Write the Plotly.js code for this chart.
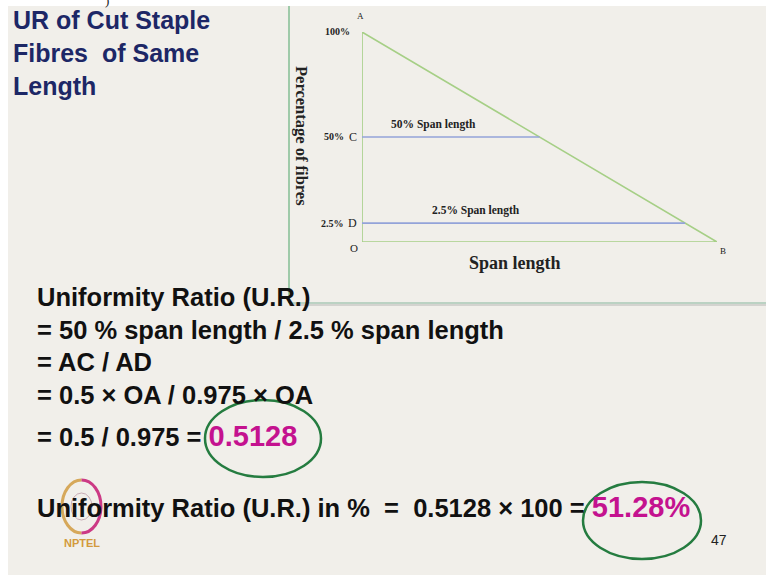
<!DOCTYPE html>
<html>
<head>
<meta charset="utf-8">
<script src="https://cdn.plot.ly/plotly-3.0.1.min.js"></script>
<style>html,body{margin:0;padding:0;background:#fff;}#chart{width:766px;height:575px;}</style>
</head>
<body>
<div id="chart"></div>
<script>
// ---- data ----
// triangle A -> O -> B -> A in (span length %, percentage of fibres %)
const triangleX = [0, 0, 100, 0];
const triangleY = [100, 0, 0, 100];
// span-length lines (drawn level on the figure, end point on AB)
const spanLevels = [50, 9];
const spanEnds = [50, 91];
const spanLabels = ['50% Span length', '2.5% Span length'];
const levelValues = [100, 50, 9];
const levelTexts = ['100%', '50%', '2.5%'];
const levelLetters = ['', 'C', 'D'];
const pointNames = ['A', 'O', 'B'];
const pointX = [0, 0, 100];
const pointY = [100, 0, 0];
const titleLines = ['UR of Cut Staple', 'Fibres  of Same', 'Length'];
const bodyLines = [
  'Uniformity Ratio (U.R.)',
  '= 50 % span length / 2.5 % span length',
  '= AC / AD',
  '= 0.5 × OA / 0.975 × OA'
];
const ratioText = '= 0.5 / 0.975 = ';
const ratioValue = '0.5128';
const percentText = 'Uniformity Ratio (U.R.) in %  =  0.5128 × 100 = ';
const percentValue = '51.28%';
const slideNumber = '47';

const W = 766, H = 575;
const px = x => x / W;
const py = y => 1 - y / H;
const serif = 'Liberation Serif, Times New Roman, serif';
const sans = 'Liberation Sans, Arial, sans-serif';
const magenta = '#c4128f';
const green = '#257c40';

const traces = [];
traces.push({
  x: triangleX, y: triangleY, type: 'scatter', mode: 'lines',
  line: {color: '#a6cf86', width: 1.6}, cliponaxis: false, hoverinfo: 'skip', showlegend: false
});
spanLevels.forEach((lv, i) => {
  traces.push({
    x: [0, spanEnds[i]], y: [lv, lv], type: 'scatter', mode: 'lines',
    line: {color: '#93a3d9', width: 1.6}, cliponaxis: false, hoverinfo: 'skip', showlegend: false
  });
});

const ann = [];
// slide title
titleLines.forEach((t, i) => {
  ann.push({xref: 'paper', yref: 'paper', x: px(11), y: py(20 + i * 33), xanchor: 'left', yanchor: 'middle',
    text: '<b>' + t + '</b>', showarrow: false, font: {family: sans, size: 25, color: '#1d2766'}});
});
// fragment at the very top
ann.push({xref: 'paper', yref: 'paper', x: px(107), y: py(0), xanchor: 'center', yanchor: 'middle',
  text: ')', showarrow: false, font: {family: serif, size: 13, color: '#222'}});
// body lines
const bodyY = [297, 330, 362, 395];
bodyLines.forEach((t, i) => {
  ann.push({xref: 'paper', yref: 'paper', x: px(35), y: py(bodyY[i]), xanchor: 'left', yanchor: 'middle',
    text: '<b>' + t + '</b>', showarrow: false, font: {family: sans, size: 25.5, color: '#111'}});
});
ann.push({xref: 'paper', yref: 'paper', x: px(35), y: py(436), xanchor: 'left', yanchor: 'middle',
  text: '<b>' + ratioText + '<span style="color:' + magenta + ';font-size:29px">' + ratioValue + '</span></b>',
  showarrow: false, font: {family: sans, size: 25.5, color: '#111'}});
ann.push({xref: 'paper', yref: 'paper', x: px(35), y: py(507), xanchor: 'left', yanchor: 'middle',
  text: '<b>' + percentText + '<span style="color:' + magenta + ';font-size:29px">' + percentValue + '</span></b>',
  showarrow: false, font: {family: sans, size: 25.5, color: '#111'}});
ann.push({xref: 'paper', yref: 'paper', x: px(719), y: py(540), xanchor: 'center', yanchor: 'middle',
  text: slideNumber, showarrow: false, font: {family: sans, size: 14, color: '#222'}});
ann.push({xref: 'paper', yref: 'paper', x: px(82), y: py(543), xanchor: 'center', yanchor: 'middle',
  text: '<b>NPTEL</b>', showarrow: false, font: {family: sans, size: 11, color: '#d39a3c'}});

// chart labels
levelValues.forEach((v, i) => {
  ann.push({xref: 'x', yref: 'y', x: 0, y: v, xanchor: 'right', yanchor: 'middle', xshift: i === 0 ? -10 : -16,
    text: '<b>' + levelTexts[i] + '</b>', showarrow: false, font: {family: serif, size: 10, color: '#222'}});
  if (levelLetters[i]) {
    ann.push({xref: 'x', yref: 'y', x: 0, y: v, xanchor: 'right', yanchor: 'middle', xshift: -3,
      text: levelLetters[i], showarrow: false, font: {family: serif, size: 12, color: '#222'}});
  }
});
const pointShift = [[-2, 16], [-8, -6], [6, -9]];
pointNames.forEach((n, i) => {
  ann.push({xref: 'x', yref: 'y', x: pointX[i], y: pointY[i], xanchor: 'center', yanchor: 'middle',
    xshift: pointShift[i][0], yshift: pointShift[i][1],
    text: n, showarrow: false, font: {family: serif, size: i === 1 ? 11 : 9, color: '#222'}});
});
const spanLabelX = [20, 32];
spanLevels.forEach((lv, i) => {
  ann.push({xref: 'x', yref: 'y', x: spanLabelX[i], y: lv, xanchor: 'center', yanchor: 'bottom', yshift: 4,
    text: '<b>' + spanLabels[i] + '</b>', showarrow: false, font: {family: serif, size: 11.5, color: '#222'}});
});
// axis titles
ann.push({xref: 'paper', yref: 'paper', x: px(302), y: py(136), xanchor: 'center', yanchor: 'middle', textangle: 90,
  text: '<b>Percentage of fibres</b>', showarrow: false, font: {family: serif, size: 16.5, color: '#222'}});
ann.push({xref: 'paper', yref: 'paper', x: px(515), y: py(263), xanchor: 'center', yanchor: 'middle',
  text: '<b>Span length</b>', showarrow: false, font: {family: serif, size: 18, color: '#222'}});

// logo half arcs (cubic approximations of an ellipse)
function halfArc(cx, cy, rx, ry, side) {
  const k = 0.5523, s = side;
  const P = (x, y) => px(x) + ',' + py(y);
  return 'M ' + P(cx, cy - ry) +
    ' C ' + P(cx + s * k * rx, cy - ry) + ' ' + P(cx + s * rx, cy - k * ry) + ' ' + P(cx + s * rx, cy) +
    ' C ' + P(cx + s * rx, cy + k * ry) + ' ' + P(cx + s * k * rx, cy + ry) + ' ' + P(cx, cy + ry);
}

const shapes = [
  // slide background
  {type: 'rect', xref: 'paper', yref: 'paper', x0: px(8), x1: 1, y0: 0, y1: py(6), fillcolor: '#f1efea', line: {width: 0}, layer: 'below'},
  // picture frame
  {type: 'line', xref: 'paper', yref: 'paper', x0: px(289), x1: px(289), y0: py(6), y1: py(303), line: {color: '#9fcaa9', width: 2}},
  {type: 'line', xref: 'paper', yref: 'paper', x0: px(289), x1: 1, y0: py(305), y1: py(305), line: {color: '#d3d3cf', width: 2}},
  {type: 'line', xref: 'paper', yref: 'paper', x0: px(289), x1: 1, y0: py(303), y1: py(303), line: {color: '#a9c8b6', width: 1.5}},
  // logo
  {type: 'path', xref: 'paper', yref: 'paper', path: halfArc(81.5, 506.5, 19.5, 26.5, -1), line: {color: '#d6a85a', width: 3}, layer: 'below'},
  {type: 'path', xref: 'paper', yref: 'paper', path: halfArc(81.5, 506.5, 19.5, 26.5, 1), line: {color: '#cc3a85', width: 3}, layer: 'below'},
  {type: 'circle', xref: 'paper', yref: 'paper', x0: px(71), x1: px(92), y0: py(520), y1: py(493), line: {color: 'rgba(150,90,120,0.45)', width: 1}, layer: 'below'},
  // hand-drawn circles
  {type: 'circle', xref: 'paper', yref: 'paper', x0: px(205), x1: px(321), y0: py(477), y1: py(400), line: {color: green, width: 2.5}},
  {type: 'circle', xref: 'paper', yref: 'paper', x0: px(583), x1: px(701), y0: py(559), y1: py(482), line: {color: green, width: 2.5}}
];

const axisOff = {showgrid: false, zeroline: false, showline: false, showticklabels: false, ticks: '', fixedrange: true};
const layout = {
  width: W, height: H,
  margin: {l: 0, r: 0, t: 0, b: 0},
  paper_bgcolor: '#ffffff', plot_bgcolor: 'rgba(0,0,0,0)',
  xaxis: Object.assign({range: [0, 100], domain: [px(362), px(717)]}, axisOff),
  yaxis: Object.assign({range: [0, 100], domain: [py(242), py(32)]}, axisOff),
  annotations: ann, shapes: shapes, showlegend: false
};
Plotly.newPlot('chart', traces, layout, {staticPlot: true, displayModeBar: false});
</script>
</body>
</html>
